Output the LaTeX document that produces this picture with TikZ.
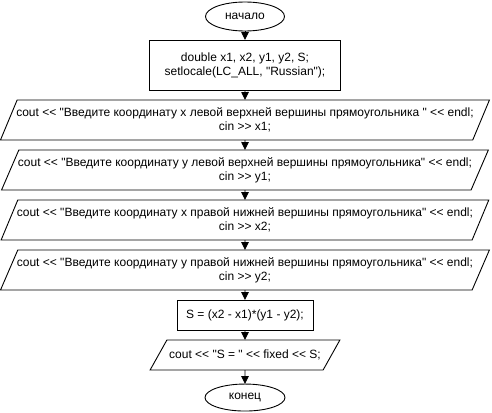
\documentclass[tikz,border=0pt]{standalone}
\usepackage{fontspec}
\newfontfamily\chartfont{Liberation Sans}
\usetikzlibrary{positioning, shapes.geometric, arrows.meta}
\tikzset{
  terminal/.style={ellipse, draw, minimum width=79pt, minimum height=29pt, inner sep=1pt, outer sep=0pt, align=center},
  process/.style={rectangle, draw, minimum width=191pt, minimum height=50pt, outer sep=0pt, align=center},
  io/.style={trapezium, trapezium left angle=58, trapezium right angle=122, trapezium stretches=true,
    draw, minimum width=490pt, minimum height=40pt, inner xsep=-3pt, inner ysep=1pt, outer sep=0pt, align=center},
  arrow/.style={-{Stealth[length=8pt, width=7.5pt, inset=0pt]}},
}

\begin{document}
\begin{tikzpicture}[x=1pt, y=-1pt, node distance=10pt, line width=0.9pt,
    font=\chartfont\fontsize{12}{14}\selectfont]
  \useasboundingbox (0,0) rectangle (492,412);

  % Nodes
  \node[terminal] (start) at (245,16.5) {начало};
  \node[process, below=9pt of start] (decl) {double x1, x2, y1, y2, S;\\ setlocale(LC\_ALL, "Russian");};
  \node[io, below=of decl] (inxa) {cout << "Введите координату x левой верхней вершины прямоугольника " << endl;\\ cin >> x1;};
  \node[io, below=of inxa] (inya) {cout << "Введите координату y левой верхней вершины прямоугольника" << endl;\\ cin >> y1;};
  \node[io, below=of inya] (inxb) {cout << "Введите координату x правой нижней вершины прямоугольника" << endl;\\ cin >> x2;};
  \node[io, below=of inxb] (inyb) {cout << "Введите координату y правой нижней вершины прямоугольника" << endl;\\ cin >> y2;};
  \node[process, minimum width=136pt, minimum height=30pt, below=of inyb] (area) {S = (x2 - x1)*(y1 - y2);};
  \node[io, trapezium left angle=38, trapezium right angle=142, minimum width=190pt, minimum height=30pt,
    below=of area] (result) {cout << "S = " << fixed << S;};
  \node[terminal, minimum width=80pt, minimum height=27pt, below=14pt of result] (stop) {конец};

  % Arrows
  \draw[arrow] (start) -- (decl);
  \draw[arrow] (decl) -- (inxa);
  \draw[arrow] (inxa) -- (inya);
  \draw[arrow] (inya) -- (inxb);
  \draw[arrow] (inxb) -- (inyb);
  \draw[arrow] (inyb) -- (area);
  \draw[arrow] (area) -- (result);
  \draw[arrow] (result) -- (stop);

\end{tikzpicture}
\end{document}
